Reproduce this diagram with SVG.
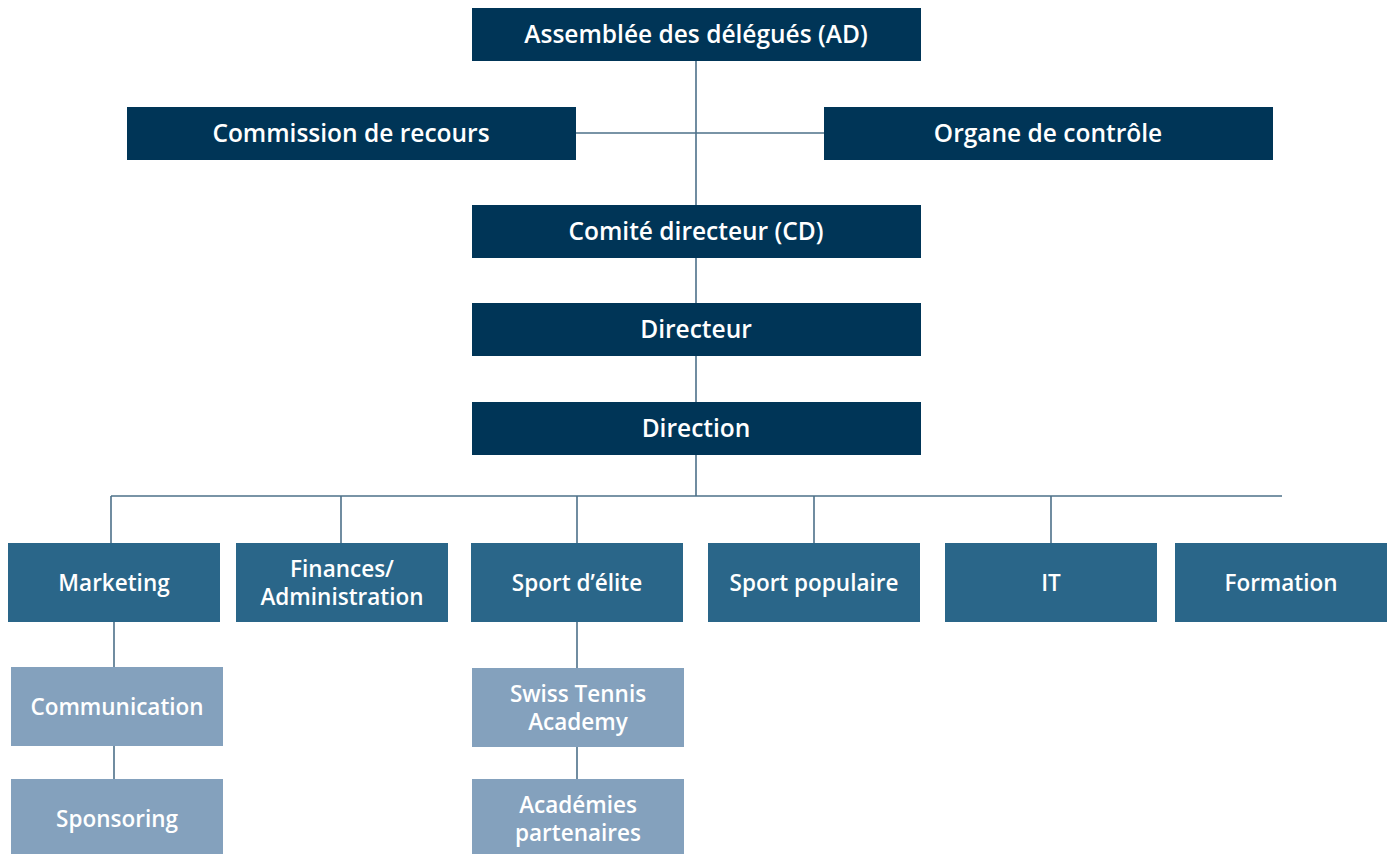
<svg xmlns="http://www.w3.org/2000/svg" width="1390" height="854" viewBox="0 0 1390 854">
<style>
.d{fill:#003557}
.m{fill:#2a6689}
.l{fill:#84a1bd}
text{font-family:"Open Sans","Liberation Sans",sans-serif;font-weight:600;fill:#fff;text-anchor:middle;font-size:22.5px}
.t text{font-size:24.5px}
.c line{stroke:#4d7089;stroke-width:1.6}
</style>
<rect width="1390" height="854" fill="#fff"/>
<g class="c" id="connectors">
<line x1="696" y1="61" x2="696" y2="205"/>
<line x1="576" y1="133" x2="824" y2="133"/>
<line x1="696" y1="258" x2="696" y2="303"/>
<line x1="696" y1="356" x2="696" y2="402"/>
<line x1="696" y1="455" x2="696" y2="496"/>
<line x1="111" y1="496" x2="1282" y2="496"/>
<line x1="111" y1="496" x2="111" y2="543"/>
<line x1="341" y1="496" x2="341" y2="543"/>
<line x1="577" y1="496" x2="577" y2="543"/>
<line x1="814" y1="496" x2="814" y2="543"/>
<line x1="1051" y1="496" x2="1051" y2="543"/>
<line x1="114" y1="622" x2="114" y2="667"/>
<line x1="114" y1="746" x2="114" y2="779"/>
<line x1="577" y1="622" x2="577" y2="668"/>
<line x1="577" y1="747" x2="577" y2="779"/>
</g>
<g class="t">
<g id="ad"><rect class="d" x="472" y="8" width="449" height="53"/><text x="696" y="43">Assemblée des délégués (AD)</text></g>
<g id="recours"><rect class="d" x="127" y="107" width="449" height="53"/><text x="351" y="142">Commission de recours</text></g>
<g id="controle"><rect class="d" x="824" y="107" width="449" height="53"/><text x="1048" y="142">Organe de contrôle</text></g>
<g id="cd"><rect class="d" x="472" y="205" width="449" height="53"/><text x="696" y="240">Comité directeur (CD)</text></g>
<g id="directeur"><rect class="d" x="472" y="303" width="449" height="53"/><text x="696" y="338">Directeur</text></g>
<g id="direction"><rect class="d" x="472" y="402" width="449" height="53"/><text x="696" y="437">Direction</text></g>
</g>
<g id="marketing"><rect class="m" x="8" y="543" width="212" height="79"/><text x="114" y="591">Marketing</text></g>
<g id="finances"><rect class="m" x="236" y="543" width="212" height="79"/><text x="342" y="577">Finances/</text><text x="342" y="605">Administration</text></g>
<g id="elite"><rect class="m" x="471" y="543" width="212" height="79"/><text x="577" y="591">Sport d’élite</text></g>
<g id="populaire"><rect class="m" x="708" y="543" width="212" height="79"/><text x="814" y="591">Sport populaire</text></g>
<g id="it"><rect class="m" x="945" y="543" width="212" height="79"/><text x="1051" y="591">IT</text></g>
<g id="formation"><rect class="m" x="1175" y="543" width="212" height="79"/><text x="1281" y="591">Formation</text></g>
<g id="communication"><rect class="l" x="11" y="667" width="212" height="79"/><text x="117" y="715">Communication</text></g>
<g id="sponsoring"><rect class="l" x="11" y="779" width="212" height="75"/><text x="117" y="827">Sponsoring</text></g>
<g id="academy"><rect class="l" x="472" y="668" width="212" height="79"/><text x="578" y="702">Swiss Tennis</text><text x="578" y="730">Academy</text></g>
<g id="partenaires"><rect class="l" x="472" y="779" width="212" height="75"/><text x="578" y="813">Académies</text><text x="578" y="841">partenaires</text></g>
</svg>
